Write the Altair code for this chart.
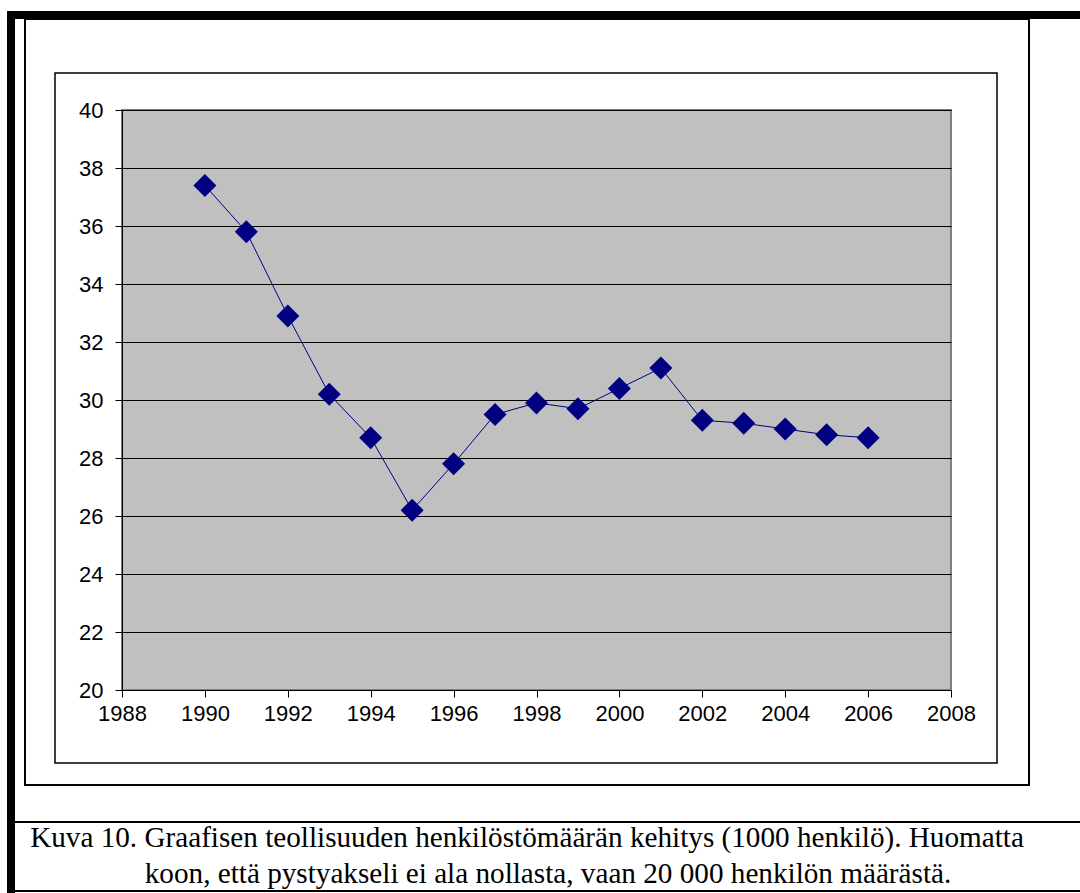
import altair as alt
import pandas as pd

# Graphic industry personnel, thousands of persons
years = list(range(1990, 2007))
staff = [37.4, 35.8, 32.9, 30.2, 28.7, 26.2, 27.8, 29.5, 29.9, 29.7,
         30.4, 31.1, 29.3, 29.2, 29.0, 28.8, 28.7]

x_ticks = list(range(1988, 2009, 2))
y_ticks = list(range(20, 41, 2))

caption_lines = [
    "Kuva 10. Graafisen teollisuuden henkilöstömäärän kehitys (1000 henkilö). Huomatta",
    "koon, että pystyakseli ei ala nollasta, vaan 20 000 henkilön määrästä.",
]

df = pd.DataFrame({"vuosi": years, "henkilöstö": staff})

# page geometry (pixels); plot area origin sits at LEFT, TOP
PAGE_W, PAGE_H = 1080, 893
LEFT, TOP = 122, 110
PLOT_W, PLOT_H = 829, 580

one = alt.Data(values=[{"k": 1}])


def frame(x0, y0, x1, y1, width=1.5, fill="transparent"):
    return alt.Chart(one).mark_rect(
        fill=fill, stroke="black", strokeWidth=width
    ).encode(
        x=alt.value(x0 - LEFT), x2=alt.value(x1 - LEFT),
        y=alt.value(y0 - TOP), y2=alt.value(y1 - TOP),
    )


def bar(x0, y0, x1, y1):
    return alt.Chart(one).mark_rect(fill="black", strokeWidth=0).encode(
        x=alt.value(x0 - LEFT), x2=alt.value(x1 - LEFT),
        y=alt.value(y0 - TOP), y2=alt.value(y1 - TOP),
    )


def hline(x0, x1, y, width=2):
    return alt.Chart(one).mark_rule(color="black", strokeWidth=width).encode(
        x=alt.value(x0 - LEFT), x2=alt.value(x1 - LEFT), y=alt.value(y - TOP)
    )


def caption(text, cx, baseline_y):
    return alt.Chart(one).mark_text(
        font="Liberation Serif", fontSize=29.2, color="black",
        align="center", baseline="alphabetic",
    ).encode(
        x=alt.value(cx - LEFT), y=alt.value(baseline_y - TOP), text=alt.value(text)
    )


decor = [
    bar(7, 11, PAGE_W, 19),          # heavy top rule
    bar(7, 11, 15, PAGE_H),          # heavy left rule
    frame(25, 19, 1029, 785, 2),     # outer chart object frame
    frame(55, 73, 997, 763, 1.5),    # chart area border
    hline(15, PAGE_W, 822),          # caption rules
    hline(15, PAGE_W, 891),
    caption(caption_lines[0], 527, 847),
    caption(caption_lines[1], 548, 883),
]

axis_style = dict(
    labelFont="Liberation Sans", labelFontSize=22, labelColor="black",
    labelFlush=False, labelOverlap=False,
    domainColor="black", domainWidth=1, tickColor="black", tickSize=7,
    tickWidth=1, title=None,
)

x_enc = alt.X(
    "vuosi:Q",
    scale=alt.Scale(domain=[1988, 2008], nice=False, zero=False),
    axis=alt.Axis(values=x_ticks, format="d", grid=False, labelPadding=6,
                  **axis_style),
)
y_enc = alt.Y(
    "henkilöstö:Q",
    scale=alt.Scale(domain=[20, 40], nice=False, zero=False),
    axis=alt.Axis(values=y_ticks, grid=True, gridColor="black", gridWidth=1,
                  gridOpacity=1, labelPadding=12, **axis_style),
)

base = alt.Chart(df).encode(x=x_enc, y=y_enc)
line = base.mark_line(color="#000080", strokeWidth=1)
points = base.mark_point(shape="diamond", filled=True, size=530,
                         color="#000080", opacity=1)

chart = alt.layer(*decor, line, points).properties(
    width=PLOT_W,
    height=PLOT_H,
    padding={"left": LEFT, "top": TOP,
             "right": PAGE_W - LEFT - PLOT_W, "bottom": PAGE_H - TOP - PLOT_H},
    autosize=alt.AutoSizeParams(type="none"),
    background="white",
).configure_view(
    fill="#c0c0c0", stroke="#808080", strokeWidth=2
)

chart.save("out.html", embed_options={"renderer": "svg", "actions": False})
